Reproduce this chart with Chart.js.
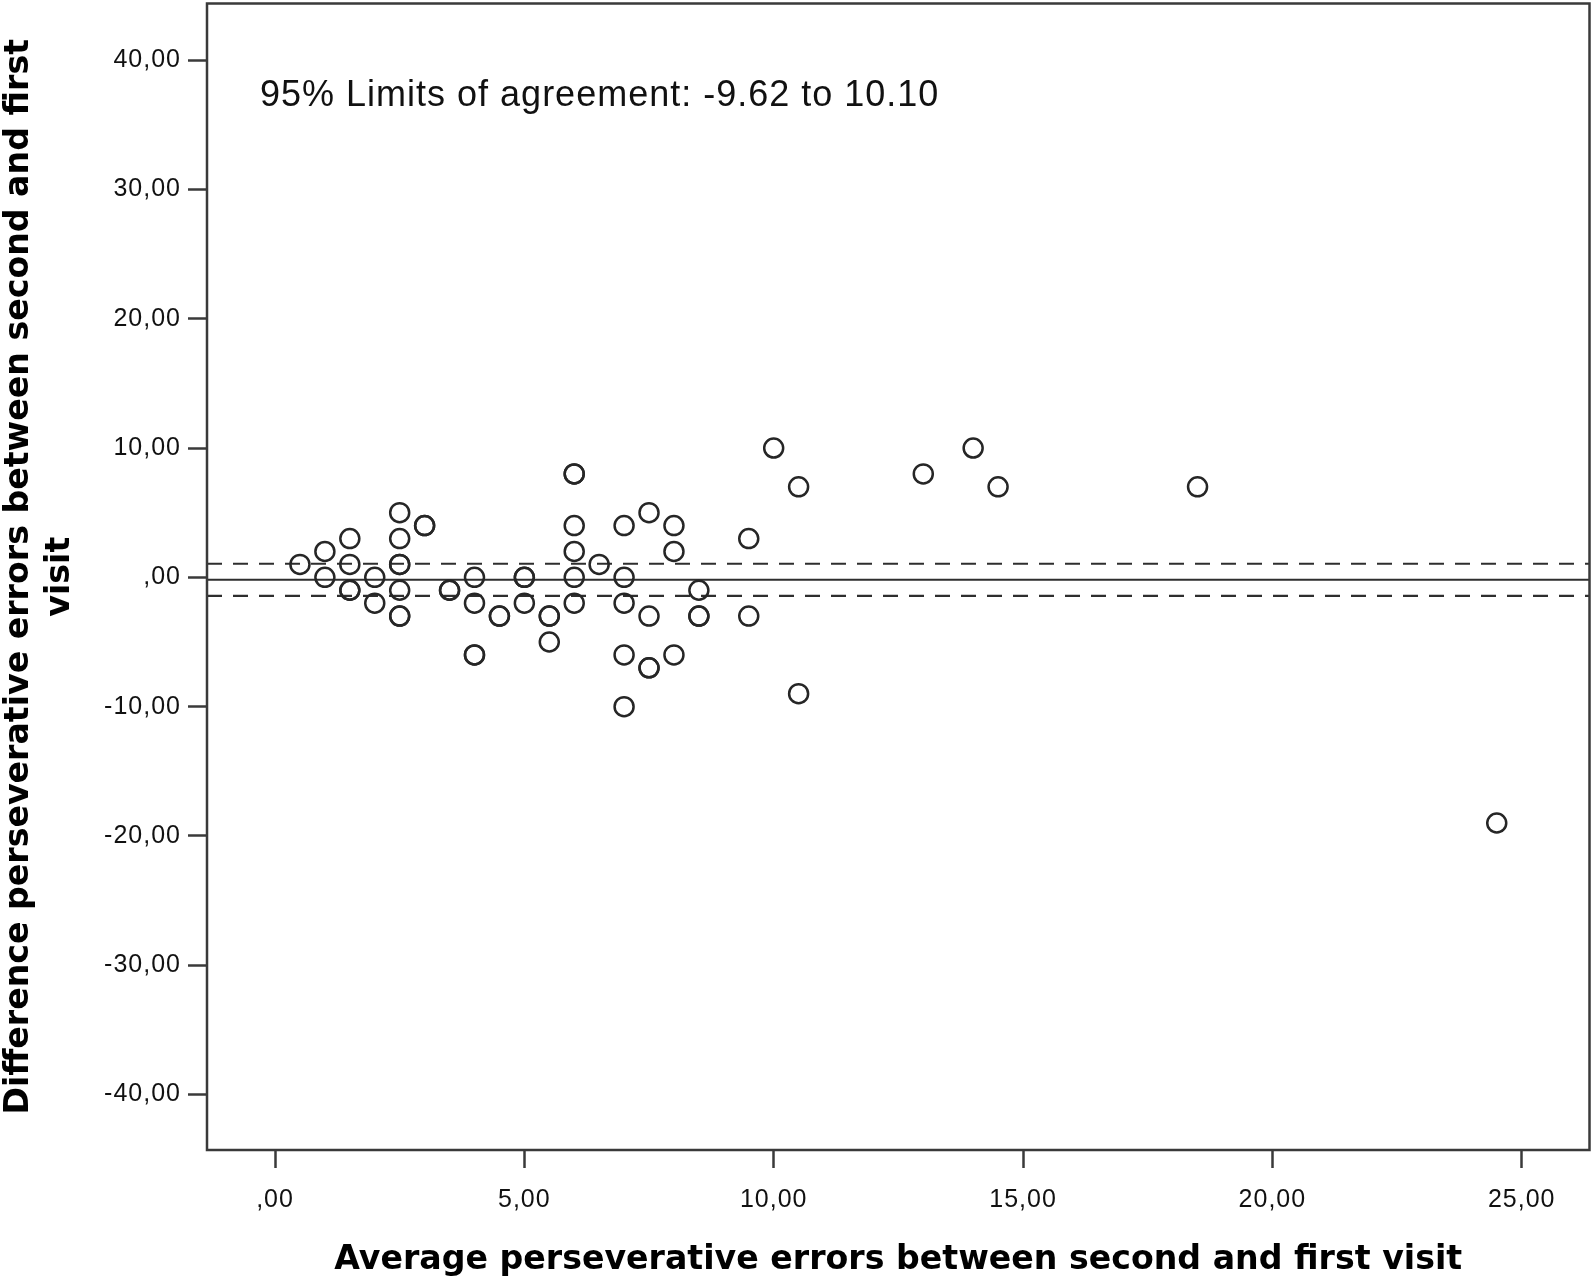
<!DOCTYPE html>
<html>
<head>
<meta charset="utf-8">
<script src="https://cdn.jsdelivr.net/npm/chart.js@4/dist/chart.umd.min.js"></script>
<style>
html, body { margin: 0; padding: 0; background: #ffffff; }
#wrap { width: 1594px; height: 1282px; position: relative; }
canvas { display: block; }
</style>
</head>
<body>
<div id="wrap"><canvas id="c" width="1594" height="1282" style="width:1594px;height:1282px"></canvas></div>
<script>
// ---- Data ----
const averageErrors = [
  0.5, 1, 1, 1.5, 1.5, 1.5, 1.5, 2, 2,
  2.5, 2.5, 2.5, 2.5, 2.5, 2.5, 2.5,
  3, 3, 3.5, 3.5,
  4, 4, 4, 4, 4.5, 4.5,
  5, 5, 5, 5.5, 5.5, 5.5,
  6, 6, 6, 6, 6, 6, 6.5,
  7, 7, 7, 7, 7,
  7.5, 7.5, 7.5, 7.5,
  8, 8, 8, 8.5, 8.5, 8.5,
  9.5, 9.5, 10, 10.5, 10.5,
  13, 14, 14.5, 18.5, 24.5
];
const differenceErrors = [
  1, 2, 0, 3, 1, -1, -1, 0, -2,
  5, 3, 1, 1, -1, -3, -3,
  4, 4, -1, -1,
  0, -2, -6, -6, -3, -3,
  0, 0, -2, -3, -3, -5,
  8, 8, 4, 2, 0, -2, 1,
  4, 0, -2, -6, -10,
  5, -3, -7, -7,
  4, 2, -6, -1, -3, -3,
  3, -3, 10, 7, -9,
  8, 10, 7, 7, -19
];
const meanDifference = -0.19;
const ciUpper = 1.05;
const ciLower = -1.43;

const xAxisRange = [-1.364, 26.36];
const yAxisRange = [-44.29, 44.38];
const xTickValues = [0, 5, 10, 15, 20, 25];
const xTickLabels = [',00', '5,00', '10,00', '15,00', '20,00', '25,00'];
const yTickValues = [-40, -30, -20, -10, 0, 10, 20, 30, 40];
const yTickLabels = ['-40,00', '-30,00', '-20,00', '-10,00', ',00', '10,00', '20,00', '30,00', '40,00'];

const xTitle = 'Average perseverative errors between second and first visit';
const yTitle = ['Difference perseverative errors between second and first', 'visit'];
const annotationText = '95% Limits of agreement: -9.62 to 10.10';

// ---- Build chart ----
const points = averageErrors.map((x, i) => ({ x: x, y: differenceErrors[i] }));
const hLine = (y) => [{ x: xAxisRange[0], y: y }, { x: xAxisRange[1], y: y }];

const AXIS_COLOR = '#3a3a3a';
const tickFont = { family: "'Liberation Sans', Arial, sans-serif", size: 25 };
const titleFont = { family: "'DejaVu Sans', Verdana, sans-serif", size: 33.2, weight: 'bold', lineHeight: 41 / 33.2 };

const framePlugin = {
  id: 'frameAndNote',
  beforeDraw(chart) {
    const ctx = chart.ctx;
    ctx.letterSpacing = '0px';
    ctx.save();
    ctx.fillStyle = '#ffffff';
    ctx.fillRect(0, 0, chart.width, chart.height);
    ctx.restore();
  },
  afterDatasetsDraw(chart) {
    // tick labels are drawn after datasets (ticks.z = 1); widen them slightly
    chart.ctx.letterSpacing = '1px';
  },
  afterDraw(chart) {
    const ctx = chart.ctx;
    const a = chart.chartArea;
    ctx.letterSpacing = '0px';
    ctx.save();
    ctx.strokeStyle = AXIS_COLOR;
    ctx.lineWidth = 2.5;
    ctx.strokeRect(a.left, a.top, a.right - a.left, a.bottom - a.top);
    ctx.font = '36px "Liberation Sans", Arial, sans-serif';
    ctx.letterSpacing = '1px';
    ctx.fillStyle = '#111111';
    ctx.textBaseline = 'alphabetic';
    ctx.textAlign = 'left';
    ctx.fillText(annotationText, a.left + 53, a.top + 102);
    ctx.restore();
    ctx.letterSpacing = '0px';
  }
};

new Chart(document.getElementById('c'), {
  type: 'scatter',
  data: {
    datasets: [
      {
        label: 'Differences',
        data: points,
        showLine: false,
        pointStyle: 'circle',
        pointRadius: 9.5,
        pointHoverRadius: 9.5,
        pointBorderWidth: 2.5,
        pointBorderColor: '#262626',
        pointBackgroundColor: 'rgba(0,0,0,0)'
      },
      {
        type: 'line',
        label: 'Mean',
        data: hLine(meanDifference),
        borderColor: '#2e2e2e',
        borderWidth: 2,
        pointRadius: 0,
        fill: false
      },
      {
        type: 'line',
        label: 'Upper',
        data: hLine(ciUpper),
        borderColor: '#2e2e2e',
        borderWidth: 2.2,
        borderDash: [15, 11],
        pointRadius: 0,
        fill: false
      },
      {
        type: 'line',
        label: 'Lower',
        data: hLine(ciLower),
        borderColor: '#2e2e2e',
        borderWidth: 2.2,
        borderDash: [15, 11],
        pointRadius: 0,
        fill: false
      }
    ]
  },
  options: {
    responsive: false,
    animation: false,
    events: [],
    layout: { autoPadding: false, padding: { left: 0, right: 4.5, top: 3.5, bottom: 0 } },
    plugins: {
      legend: { display: false },
      tooltip: { enabled: false }
    },
    scales: {
      x: {
        type: 'linear',
        position: 'bottom',
        min: xAxisRange[0],
        max: xAxisRange[1],
        afterBuildTicks: (s) => { s.ticks = xTickValues.map(v => ({ value: v })); },
        afterFit: (s) => { s.height = 132; s.paddingLeft = 0; s.paddingRight = 0; },
        ticks: {
          z: 1,
          padding: 17,
          color: '#111111',
          font: tickFont,
          maxRotation: 0,
          autoSkip: false,
          callback: (v) => { const i = xTickValues.indexOf(v); return i >= 0 ? xTickLabels[i] : ''; }
        },
        grid: {
          drawOnChartArea: false,
          drawTicks: true,
          tickLength: 18,
          tickWidth: 2.5,
          tickColor: AXIS_COLOR,
          color: AXIS_COLOR
        },
        border: { display: false },
        title: {
          display: true,
          text: xTitle,
          color: '#000000',
          font: titleFont,
          padding: { top: 0, bottom: 1.5 }
        }
      },
      y: {
        type: 'linear',
        position: 'left',
        min: yAxisRange[0],
        max: yAxisRange[1],
        afterBuildTicks: (s) => { s.ticks = yTickValues.map(v => ({ value: v })); },
        afterFit: (s) => { s.width = 207; s.paddingTop = 0; s.paddingBottom = 0; },
        ticks: {
          z: 1,
          padding: 7,
          color: '#111111',
          font: tickFont,
          autoSkip: false,
          callback: (v) => { const i = yTickValues.indexOf(v); return i >= 0 ? yTickLabels[i] : ''; }
        },
        grid: {
          drawOnChartArea: false,
          drawTicks: true,
          tickLength: 19,
          tickWidth: 2.5,
          tickColor: AXIS_COLOR,
          color: AXIS_COLOR
        },
        border: { display: false },
        title: {
          display: true,
          text: yTitle,
          color: '#000000',
          font: titleFont,
          padding: { top: -1, bottom: 0 }
        }
      }
    }
  },
  plugins: [framePlugin]
});
</script>
</body>
</html>
